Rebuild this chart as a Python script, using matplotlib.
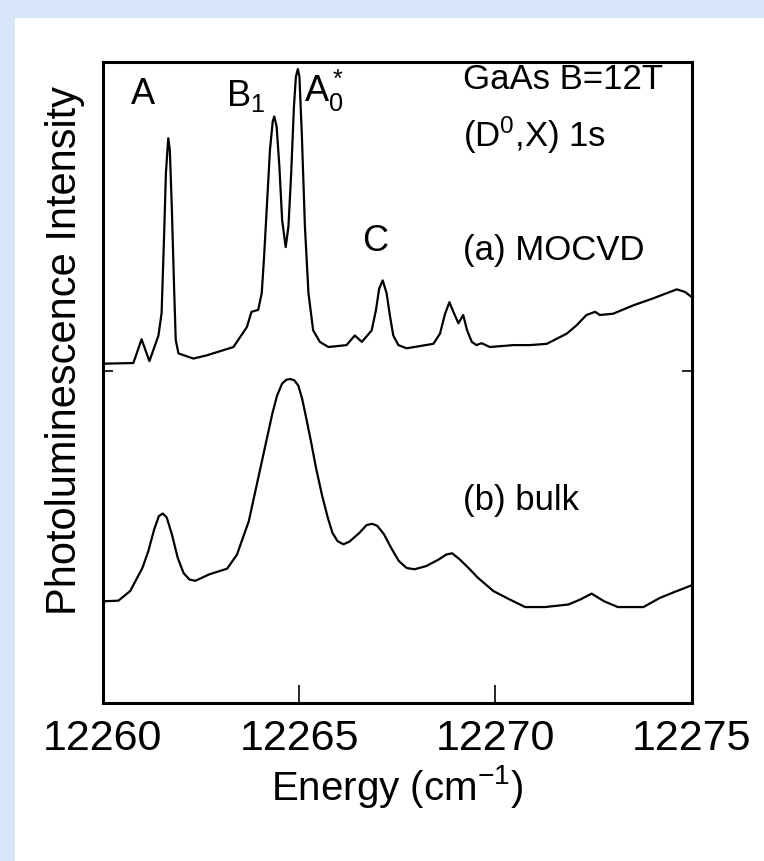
import matplotlib
matplotlib.use('Agg')
import matplotlib.pyplot as plt
from matplotlib.patches import Rectangle

# Spectrum (a) MOCVD: energy in cm^-1, intensity in arbitrary units.
energy_a = [12260.02, 12260.78, 12260.99, 12261.19, 12261.42, 12261.50, 12261.56,
            12261.61, 12261.67, 12261.71, 12261.76, 12261.82, 12261.86, 12261.93,
            12262.31, 12262.65, 12263.33, 12263.67, 12263.79, 12263.96, 12264.05,
            12264.11, 12264.18, 12264.26, 12264.33, 12264.37, 12264.43, 12264.50,
            12264.57, 12264.66, 12264.73, 12264.80, 12264.87, 12264.92, 12264.97,
            12265.01, 12265.07, 12265.15, 12265.24, 12265.36, 12265.53, 12265.75,
            12266.21, 12266.42, 12266.60, 12266.85, 12266.96, 12267.04, 12267.13,
            12267.23, 12267.32, 12267.40, 12267.53, 12267.74, 12268.42, 12268.59,
            12268.72, 12268.83, 12268.93, 12269.06, 12269.18, 12269.28, 12269.40,
            12269.52, 12269.65, 12269.86, 12270.46, 12270.88, 12271.31, 12271.82,
            12272.07, 12272.32, 12272.54, 12272.66, 12273.00, 12273.51, 12274.02,
            12274.36, 12274.62, 12274.83, 12275.0]
intensity_a = [5.29, 5.30, 5.67, 5.33, 5.73, 6.08, 7.22,
               8.27, 8.81, 8.62, 7.73, 6.44, 5.66, 5.45,
               5.37, 5.42, 5.55, 5.86, 6.10, 6.13, 6.39,
               6.96, 7.74, 8.63, 9.07, 9.15, 8.99, 8.36,
               7.53, 7.11, 7.43, 8.26, 9.30, 9.77, 9.89,
               9.77, 8.89, 7.43, 6.39, 5.81, 5.63, 5.55,
               5.58, 5.73, 5.63, 5.81, 6.13, 6.46, 6.59,
               6.39, 6.02, 5.73, 5.58, 5.53, 5.60, 5.76,
               6.07, 6.25, 6.10, 5.92, 6.05, 5.81, 5.63,
               5.58, 5.61, 5.55, 5.58, 5.58, 5.60, 5.76,
               5.89, 6.05, 6.10, 6.05, 6.07, 6.20, 6.31,
               6.39, 6.45, 6.41, 6.33]

# Spectrum (b) bulk
energy_b = [12260.00, 12260.40, 12260.70, 12261.01, 12261.16, 12261.31, 12261.43,
            12261.53, 12261.63, 12261.76, 12261.91, 12262.06, 12262.21, 12262.36,
            12262.71, 12263.17, 12263.42, 12263.72, 12263.87, 12264.02, 12264.17,
            12264.32, 12264.44, 12264.57, 12264.68, 12264.78, 12264.88, 12264.98,
            12265.08, 12265.18, 12265.30, 12265.43, 12265.58, 12265.73, 12265.85,
            12265.98, 12266.13, 12266.28, 12266.54, 12266.72, 12266.86, 12266.99,
            12267.16, 12267.34, 12267.54, 12267.74, 12267.94, 12268.24, 12268.55,
            12268.75, 12268.90, 12269.10, 12269.35, 12269.55, 12269.95, 12270.36,
            12270.76, 12271.26, 12271.86, 12272.17, 12272.45, 12272.77, 12273.12,
            12273.77, 12274.18, 12274.58, 12275.00]
intensity_b = [1.58, 1.59, 1.74, 2.10, 2.36, 2.70, 2.91,
               2.95, 2.89, 2.63, 2.26, 2.02, 1.92, 1.90,
               2.00, 2.09, 2.31, 2.83, 3.25, 3.67, 4.09,
               4.51, 4.79, 4.98, 5.04, 5.05, 5.03, 4.95,
               4.74, 4.45, 4.09, 3.67, 3.25, 2.89, 2.65,
               2.52, 2.47, 2.51, 2.65, 2.77, 2.79, 2.76,
               2.63, 2.42, 2.21, 2.10, 2.08, 2.13, 2.23,
               2.31, 2.33, 2.23, 2.08, 1.95, 1.74, 1.61,
               1.49, 1.49, 1.53, 1.61, 1.70, 1.58, 1.49,
               1.49, 1.63, 1.73, 1.83]

x_ticks = [12260, 12265, 12270, 12275]
y_ticks = [5.17]

plt.rcParams['font.family'] = ['Liberation Sans', 'DejaVu Sans']
plt.rcParams['mathtext.fontset'] = 'custom'
plt.rcParams['mathtext.rm'] = 'Liberation Sans'
plt.rcParams['mathtext.it'] = 'Liberation Sans'
plt.rcParams['mathtext.default'] = 'regular'

W, H = 764, 861
fig = plt.figure(figsize=(W / 100, H / 100), dpi=100, facecolor='#d7e5f8')
# white page on the blue background
fig.patches.append(Rectangle((15 / W, 0), 1, 1 - 18 / H, transform=fig.transFigure,
                             facecolor='white', edgecolor='none', zorder=-5))

left, right, top, bottom = 102.7, 691.7, 62, 702.5
ax = fig.add_axes([left / W, 1 - bottom / H, (right - left) / W, (bottom - top) / H])
ax.set_zorder(2)
ax.set_facecolor('white')

ax.plot(energy_a, intensity_a, color='black', lw=1.6)
ax.plot(energy_b, intensity_b, color='black', lw=1.6)

ax.set_xlim(12260, 12275)
ax.set_ylim(0, 10)
ax.set_xticks(x_ticks)
ax.set_yticks(y_ticks)
ax.set_yticklabels([])
ax.tick_params(axis='x', direction='in', length=13, width=1.2, labelsize=31, pad=12,
               top=False)
ax.tick_params(axis='y', direction='in', length=7, width=1.2, left=True, right=True)
for s in ax.spines.values():
    s.set_linewidth(2.2)

ax.set_xlabel('Energy (cm$^{-1}$)', fontsize=29, labelpad=3)
ax.set_ylabel('Photoluminescence Intensity', fontsize=30)
ax.yaxis.set_label_coords(-0.03, 0.55)

# peak labels
ax.text(12261.03, 9.5, 'A', fontsize=26, ha='center', va='center')
ax.text(12263.15, 9.47, 'B$_1$', fontsize=26, ha='left', va='center')
ax.text(12265.13, 9.55, 'A$_0^*$', fontsize=26, ha='left', va='center')
ax.text(12266.95, 7.2, 'C', fontsize=26, ha='center', va='center')

ax.text(12269.17, 9.72, 'GaAs B=12T', fontsize=25, ha='left', va='center')
ax.text(12269.17, 8.85, '(D$^0$,X) 1s', fontsize=25, ha='left', va='center')
ax.text(12269.17, 7.05, '(a) MOCVD', fontsize=25, ha='left', va='center')
ax.text(12269.17, 3.15, '(b) bulk', fontsize=25, ha='left', va='center')

fig.savefig('out.png', dpi=100, facecolor=fig.get_facecolor())
